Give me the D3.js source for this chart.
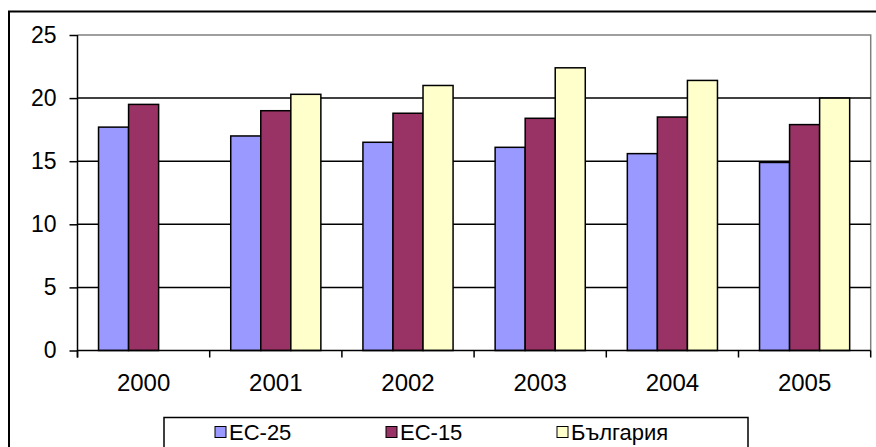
<!DOCTYPE html>
<html>
<head>
<meta charset="utf-8">
<script src="https://cdn.jsdelivr.net/npm/d3@7"></script>
<style>
  html, body { margin: 0; padding: 0; background: #fff; }
  svg { display: block; }
  text { font-family: "Liberation Sans", Arial, sans-serif; fill: #000; }
</style>
</head>
<body>
<svg id="chart" width="876" height="447"></svg>
<script>
const years = ["2000", "2001", "2002", "2003", "2004", "2005"];
const seriesNames = ["ЕС-25", "ЕС-15", "България"];
const eu25 = [17.7, 17.0, 16.5, 16.1, 15.6, 14.9];
const eu15 = [19.5, 19.0, 18.8, 18.4, 18.5, 17.9];
const bulgaria = [null, 20.3, 21.0, 22.4, 21.4, 20.0];
const yTicks = [0, 5, 10, 15, 20, 25];
const colors = ["#9999FF", "#993366", "#FFFFCC"];

const seriesValues = [eu25, eu15, bulgaria];
const svg = d3.select("#chart");

const plot = { left: 77.5, right: 870.7, top: 35, bottom: 350.5 };

// outer chart border
svg.append("rect")
  .attr("x", 9).attr("y", 11.5)
  .attr("width", 900).attr("height", 500)
  .attr("fill", "none").attr("stroke", "#000").attr("stroke-width", 2);

const x0 = d3.scaleBand().domain(years).range([plot.left, plot.right]).padding(0);
const x1 = d3.scaleBand().domain(seriesNames).range([0, x0.bandwidth()])
  .paddingInner(0).paddingOuter(0.7);
const y = d3.scaleLinear().domain([0, 25]).range([plot.bottom, plot.top]);

// plot area border (top and right, grey)
svg.append("path")
  .attr("d", `M${plot.left},${plot.top}H${plot.right}V${plot.bottom}`)
  .attr("fill", "none").attr("stroke", "#808080").attr("stroke-width", 1.5);

// gridlines
svg.append("g").selectAll("line")
  .data(yTicks.filter(v => v > 0 && v < 25))
  .join("line")
  .attr("x1", plot.left).attr("x2", plot.right)
  .attr("y1", d => y(d)).attr("y2", d => y(d))
  .attr("stroke", "#000").attr("stroke-width", 1.5);

// bars
const groups = svg.append("g").selectAll("g")
  .data(years)
  .join("g")
  .attr("transform", d => `translate(${x0(d)},0)`);

groups.selectAll("rect")
  .data((yr, i) => seriesNames.map((s, j) => ({ s, j, v: seriesValues[j][i] })).filter(d => d.v != null))
  .join("rect")
  .attr("x", d => x1(d.s))
  .attr("width", x1.bandwidth())
  .attr("y", d => y(d.v))
  .attr("height", d => y(0) - y(d.v))
  .attr("fill", d => colors[d.j])
  .attr("stroke", "#000").attr("stroke-width", 1.5);

// y axis
const yAxis = d3.axisLeft(y).tickValues(yTicks).tickSize(8).tickPadding(13);
const gy = svg.append("g").attr("transform", `translate(${plot.left},0)`).call(yAxis);
gy.select(".domain").remove();
gy.selectAll(".tick line").attr("stroke", "#000").attr("stroke-width", 1.5);
gy.selectAll(".tick text").attr("font-size", 23).attr("font-family", "Liberation Sans, Arial, sans-serif").attr("fill", "#000");
svg.append("line")
  .attr("x1", plot.left).attr("x2", plot.left)
  .attr("y1", plot.top).attr("y2", plot.bottom + 7)
  .attr("stroke", "#000").attr("stroke-width", 1.5);

// x axis
const gx = svg.append("g").attr("transform", `translate(0,${plot.bottom})`)
  .call(d3.axisBottom(x0).tickSize(0).tickPadding(23));
gx.select(".domain").remove();
gx.selectAll(".tick text").attr("font-size", 24).attr("font-family", "Liberation Sans, Arial, sans-serif").attr("fill", "#000");
svg.append("line")
  .attr("x1", plot.left).attr("x2", plot.right)
  .attr("y1", plot.bottom).attr("y2", plot.bottom)
  .attr("stroke", "#000").attr("stroke-width", 1.5);
svg.append("g").selectAll("line")
  .data(years.concat(["end"]))
  .join("line")
  .attr("x1", d => d === "end" ? plot.right : x0(d))
  .attr("x2", d => d === "end" ? plot.right : x0(d))
  .attr("y1", plot.bottom).attr("y2", plot.bottom + 7)
  .attr("stroke", "#000").attr("stroke-width", 1.5);

// legend
const legend = svg.append("g");
legend.append("rect")
  .attr("x", 164).attr("y", 417.5)
  .attr("width", 584).attr("height", 60)
  .attr("fill", "#fff").attr("stroke", "#000").attr("stroke-width", 1.5);
const legendX = [215, 386, 557];
const items = legend.selectAll("g.item")
  .data(seriesNames)
  .join("g").attr("class", "item")
  .attr("transform", (d, i) => `translate(${legendX[i]},432)`);
items.append("rect")
  .attr("x", 0).attr("y", -5.5).attr("width", 11).attr("height", 11)
  .attr("fill", (d, i) => colors[i]).attr("stroke", "#000").attr("stroke-width", 1);
items.append("text")
  .attr("x", 14).attr("y", 0).attr("dy", "0.36em")
  .attr("font-size", 22)
  .text(d => d);
</script>
</body>
</html>
